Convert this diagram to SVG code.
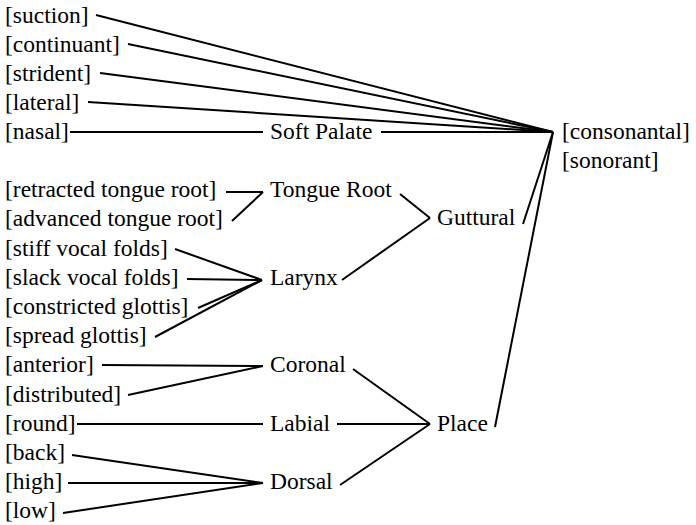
<svg xmlns="http://www.w3.org/2000/svg" width="696" height="525" viewBox="0 0 696 525">
<style>
text { font-family: "Liberation Serif", "Times New Roman", serif; font-size: 23.5px; fill: #000; }
#connectors line { stroke: #000; stroke-width: 2; stroke-linecap: butt; }
</style>
<rect width="696" height="525" fill="#fff"/>
<g id="connectors">
<line x1="96" y1="15" x2="553" y2="132"/>
<line x1="128" y1="44" x2="553" y2="132"/>
<line x1="100" y1="73" x2="553" y2="132"/>
<line x1="88" y1="102" x2="553" y2="132"/>
<line x1="70" y1="132" x2="263" y2="132"/>
<line x1="381" y1="132" x2="553" y2="132"/>
<line x1="226" y1="192" x2="263" y2="192"/>
<line x1="232" y1="221" x2="263" y2="192"/>
<line x1="400" y1="194" x2="430" y2="218"/>
<line x1="342" y1="280" x2="430" y2="218"/>
<line x1="523" y1="224" x2="553" y2="132"/>
<line x1="175" y1="249" x2="262" y2="280"/>
<line x1="187" y1="279" x2="262" y2="280"/>
<line x1="198" y1="308" x2="262" y2="280"/>
<line x1="155" y1="337" x2="262" y2="280"/>
<line x1="102" y1="365" x2="263" y2="366"/>
<line x1="128" y1="395" x2="263" y2="366"/>
<line x1="353" y1="369" x2="430" y2="424"/>
<line x1="77" y1="424" x2="263" y2="424"/>
<line x1="337" y1="424" x2="430" y2="424"/>
<line x1="340" y1="485" x2="430" y2="424"/>
<line x1="72" y1="455" x2="263" y2="483"/>
<line x1="68" y1="483" x2="263" y2="483"/>
<line x1="63" y1="513" x2="263" y2="483"/>
<line x1="495" y1="427" x2="553" y2="132"/>
</g>
<g id="suction"><text x="5" y="23">[suction]</text></g>
<g id="continuant"><text x="5" y="52">[continuant]</text></g>
<g id="strident"><text x="5" y="81">[strident]</text></g>
<g id="lateral"><text x="5" y="110">[lateral]</text></g>
<g id="nasal"><text x="5" y="139">[nasal]</text></g>
<g id="soft-palate"><text x="270" y="139">Soft Palate</text></g>
<g id="consonantal"><text x="562" y="139">[consonantal]</text></g>
<g id="sonorant"><text x="562" y="168">[sonorant]</text></g>
<g id="retracted-tongue-root"><text x="5" y="197">[retracted tongue root]</text></g>
<g id="tongue-root"><text x="270" y="197">Tongue Root</text></g>
<g id="advanced-tongue-root"><text x="5" y="226">[advanced tongue root]</text></g>
<g id="guttural"><text x="437" y="225">Guttural</text></g>
<g id="stiff-vocal-folds"><text x="5" y="256">[stiff vocal folds]</text></g>
<g id="slack-vocal-folds"><text x="5" y="285">[slack vocal folds]</text></g>
<g id="larynx"><text x="270" y="285">Larynx</text></g>
<g id="constricted-glottis"><text x="5" y="314">[constricted glottis]</text></g>
<g id="spread-glottis"><text x="5" y="343">[spread glottis]</text></g>
<g id="anterior"><text x="5" y="372">[anterior]</text></g>
<g id="coronal"><text x="270" y="372">Coronal</text></g>
<g id="distributed"><text x="5" y="402">[distributed]</text></g>
<g id="round"><text x="5" y="431">[round]</text></g>
<g id="labial"><text x="270" y="431">Labial</text></g>
<g id="place"><text x="437" y="431">Place</text></g>
<g id="back"><text x="5" y="460">[back]</text></g>
<g id="high"><text x="5" y="489">[high]</text></g>
<g id="dorsal"><text x="270" y="489">Dorsal</text></g>
<g id="low"><text x="5" y="518">[low]</text></g>
</svg>
